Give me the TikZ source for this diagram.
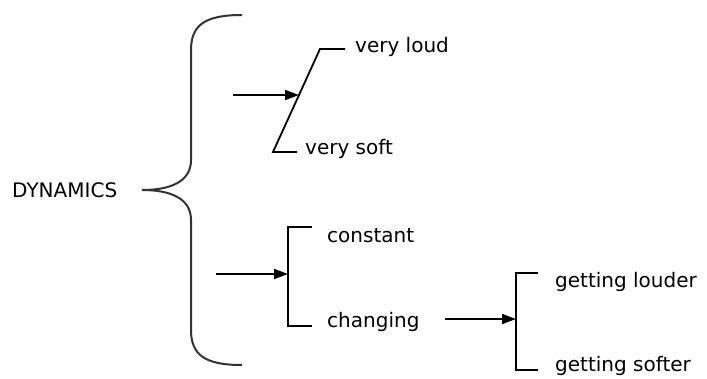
\documentclass[tikz,border=0pt]{standalone}
\usepackage{fontspec}
\setmainfont{DejaVu Sans}
\usetikzlibrary{arrows.meta,positioning}

\begin{document}
\begin{tikzpicture}[
    x=1pt, y=-1pt,
    lbl/.style={font=\fontsize{20}{24}\selectfont, inner sep=0pt, anchor=base west},
    arr/.style={-{Triangle[length=14pt,width=10pt]}, line width=1.8pt},
    brk/.style={line width=1.8pt},
    brc/.style={line width=2pt, black!80},
  ]
    \useasboundingbox (0,0) rectangle (707,378);

    % labels
    \node[lbl] (dyn) at (12,197) {DYNAMICS};
    \node[lbl] (loud) at (355,52) {very loud};
    \node[lbl] (soft) at (305,154) {very soft};
    \node[lbl] (const) at (327,242) {constant};
    \node[lbl] (chang) at (327,327) {changing};
    \node[lbl] (louder) at (555,287) {getting louder};
    \node[lbl] (softer) at (555,371) {getting softer};

    % big brace
    \coordinate (bt) at (242,15);
    \coordinate (tip) at (142,190);
    \coordinate (bb) at (242,365);
    \draw[brc] (bt) .. controls (205,15) and (191,25) .. (191,50) -- (191,160)
      .. controls (191,182) and (170,190) .. (tip)
      .. controls (170,190) and (191,198) .. (191,220) -- (191,330)
      .. controls (191,355) and (205,365) .. (bb);

    % loudness bracket
    \coordinate (l1a) at (345,49);
    \coordinate (l1b) at (320,49);
    \coordinate (l1c) at (273,152);
    \coordinate (l1d) at (297,152);
    \coordinate (l1m) at (299,95);
    \coordinate (l1in) at (233,95);
    \draw[brk] (l1a) -- (l1b) -- (l1c) -- (l1d);
    \draw[arr] (l1in) -- (l1m);

    % constant / changing bracket
    \coordinate (l2a) at (312,227);
    \coordinate (l2b) at (288,227);
    \coordinate (l2c) at (288,326);
    \coordinate (l2d) at (312,326);
    \coordinate (l2m) at (288,274);
    \coordinate (l2in) at (216,274);
    \draw[brk] (l2a) -- (l2b) -- (l2c) -- (l2d);
    \draw[arr] (l2in) -- (l2m);

    % louder / softer bracket
    \coordinate (l3a) at (538,273);
    \coordinate (l3b) at (516,273);
    \coordinate (l3c) at (516,370);
    \coordinate (l3d) at (538,370);
    \coordinate (l3m) at (516,319);
    \coordinate (l3in) at (445,319);
    \draw[brk] (l3a) -- (l3b) -- (l3c) -- (l3d);
    \draw[arr] (l3in) -- (l3m);
  \end{tikzpicture}
\end{document}
